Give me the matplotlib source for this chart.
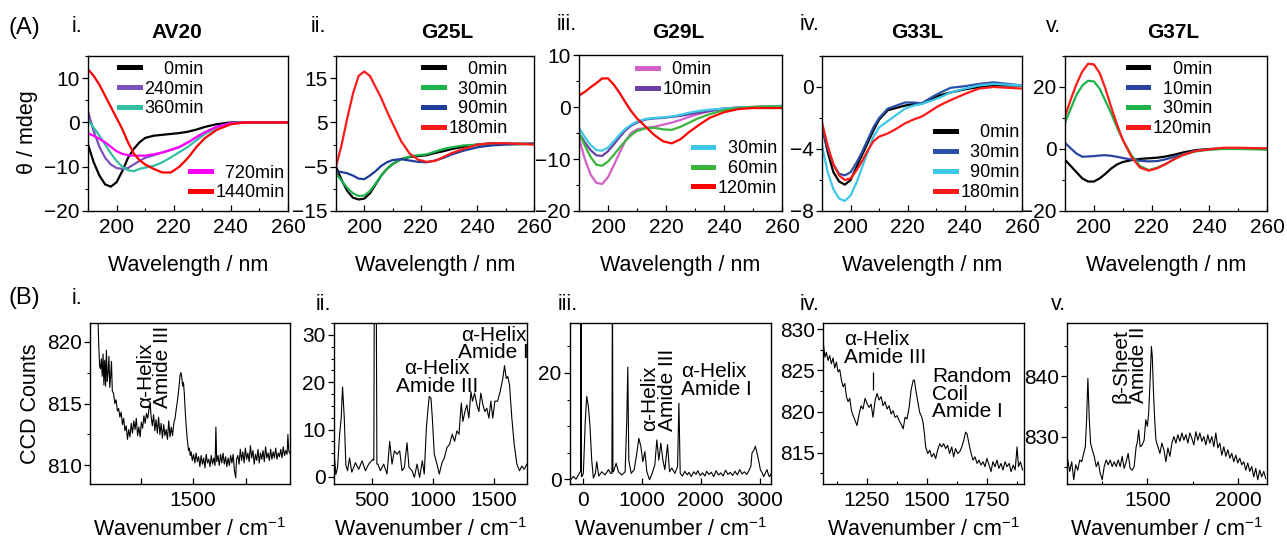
"""CD spectra (top row) and Raman spectra (bottom row) of AV20 and its Gly->Leu mutants."""

import matplotlib
matplotlib.use("Agg")
import matplotlib.pyplot as plt
from matplotlib.ticker import FixedLocator, MultipleLocator

plt.rcParams["font.family"] = ["Liberation Sans", "DejaVu Sans"]
plt.rcParams["mathtext.fontset"] = "custom"
plt.rcParams["mathtext.rm"] = "Liberation Sans"
plt.rcParams["mathtext.it"] = "Liberation Sans:italic"

W, H = 1287, 541

# ---------------------------------------------------------------- CD data
WL = [190, 192, 194, 196, 198, 200, 202, 204, 206, 208, 210, 213, 216, 219,
      222, 225, 228, 231, 235, 240, 245, 250, 260]

AV20_LABELS = ["0min", "240min", "360min", "720min", "1440min"]
AV20_COLORS = ["#000000", "#7b52b9", "#34bfa2", "#ff00ff", "#ff0000"]
AV20 = [
    [-5, -9, -12, -14, -14.5, -13.5, -11, -8, -6, -4.5, -3.5, -3, -2.8, -2.6,
     -2.4, -2.1, -1.6, -1.0, -0.4, 0, 0, 0, 0],
    [2.5, -2, -5.5, -8, -9.5, -10.3, -10.5, -10.3, -9.5, -8.7, -8, -7.4, -6.8,
     -6.2, -5.6, -4.5, -3.3, -2.2, -1.0, -0.2, 0, 0, 0],
    [0.5, -1.2, -3, -5, -7, -8.7, -10, -10.8, -11, -10.5, -10.2, -9.8, -9,
     -7.9, -6.7, -5.5, -4, -2.6, -1.2, -0.2, 0, 0, 0],
    [-2.5, -3, -3.7, -4.5, -5.5, -6.5, -7.1, -7.4, -7.5, -7.5, -7.5, -7.2,
     -6.8, -6.2, -5.5, -4.5, -3.3, -2.2, -1, -0.2, 0, 0, 0],
    [12, 10.5, 8.5, 6, 3.5, 1, -1.5, -4.5, -7, -8.5, -9.5, -10.5, -11.3,
     -11.3, -10, -8, -5.5, -3.5, -1.7, -0.4, 0, 0, 0],
]

G25L_LABELS = ["0min", "30min", "90min", "180min"]
G25L_COLORS = ["#000000", "#1db24a", "#1f3c99", "#ff1a1a"]
G25L = [
    [-5, -8, -10.5, -12, -12.4, -12.2, -11, -9, -7, -5.5, -4.4, -3.3, -2.8,
     -2.6, -2.4, -1.9, -1.5, -1.0, -0.5, 0, 0.3, 0.2, 0.2],
    [-6.5, -8.2, -9.8, -11, -11.6, -11.5, -10.5, -8.8, -7, -5.5, -4.4, -3.3,
     -2.7, -2.4, -2.2, -1.6, -1.0, -0.6, -0.2, 0, 0.2, 0.1, 0.1],
    [-6, -6.2, -6.5, -7, -7.7, -7.8, -7, -6, -4.8, -4, -3.5, -3.3, -3.6, -3.9,
     -4, -3.6, -3, -2.2, -1.4, -0.6, -0.2, 0, 0.2],
    [-5, 0, 6, 11.5, 15.5, 16.5, 15.5, 13, 10.5, 7.5, 4.8, 0.8, -2, -3.4,
     -3.9, -3.7, -2.8, -1.9, -1.0, 0, 0.3, 0.3, 0],
]

G29L_LABELS = ["0min", "10min", "30min", "60min", "120min"]
G29L_COLORS = ["#d45fc8", "#6a3fa6", "#3cc8e6", "#3cb43c", "#ff0000"]
G29L = [
    [-6, -10, -13, -14.6, -14.8, -13.5, -11.2, -8.8, -6.5, -5, -4.3, -4, -3.8,
     -3.4, -3, -2.5, -1.9, -1.4, -0.8, -0.3, -0.1, 0, 0.2],
    [-5, -6.8, -8.3, -9.3, -9.4, -8.5, -7.2, -5.8, -4.5, -3.6, -3, -2.4, -2.2,
     -2.1, -1.9, -1.7, -1.4, -1.1, -0.8, -0.3, -0.1, 0, 0.2],
    [-4, -5.8, -7.3, -8.3, -8.4, -7.8, -6.6, -5.3, -4.2, -3.4, -2.8, -2.3,
     -2.1, -2, -1.8, -1.5, -1.1, -0.8, -0.5, -0.3, -0.1, 0, 0.2],
    [-5, -7.4, -9.6, -11.1, -11.3, -10.5, -9.2, -7.8, -6.5, -5.4, -4.6, -4.1,
     -4, -4.3, -4.4, -3.8, -3, -2.2, -1.4, -0.6, -0.2, 0, 0.1],
    [2.2, 2.9, 3.8, 4.6, 5.5, 5.5, 4.3, 2.7, 0.9, -0.8, -2.2, -3.8, -5.4,
     -6.6, -7, -6.2, -4.8, -3.6, -2.1, -1, -0.4, -0.2, -0.2],
]

G33L_LABELS = ["0min", "30min", "90min", "180min"]
G33L_COLORS = ["#000000", "#2a4fa8", "#3cc8e6", "#ff1a1a"]
G33L = [
    [-2.5, -4.2, -5.5, -6.1, -6.3, -6, -5.2, -4.4, -3.6, -2.8, -2.1, -1.5,
     -1.35, -1.2, -1.1, -1.05, -0.8, -0.55, -0.35, -0.15, 0, 0.1, 0.1],
    [-2.6, -4, -5, -5.6, -5.7, -5.5, -4.9, -4.2, -3.4, -2.6, -2, -1.4, -1.2,
     -1.0, -1.0, -1.05, -0.7, -0.4, -0.05, 0.05, 0.2, 0.3, 0.1],
    [-3.8, -5.5, -6.6, -7.2, -7.35, -7, -6.2, -5.2, -4.2, -3.2, -2.6, -2.2,
     -1.8, -1.4, -1.2, -1.1, -0.9, -0.7, -0.35, -0.1, 0.1, 0.2, 0.1],
    [-2.3, -3.8, -5, -5.7, -6, -5.9, -5.4, -4.8, -4.1, -3.5, -3.2, -3.0, -2.7,
     -2.35, -2.1, -1.9, -1.55, -1.2, -0.85, -0.45, -0.1, 0, -0.1],
]

G37L_LABELS = ["0min", "10min", "30min", "120min"]
G37L_COLORS = ["#000000", "#2a44a0", "#1db24a", "#ff1a1a"]
G37L = [
    [-3.5, -5.5, -7.5, -9.5, -10.5, -10.5, -9.5, -8, -6.3, -5, -4.2, -3.6,
     -3.2, -3, -2.8, -2.4, -1.8, -1.1, -0.4, 0, 0.1, 0.2, 0],
    [2, 0.2, -1.5, -2.5, -2.4, -2.3, -2.1, -2, -2.2, -2.5, -2.9, -3.4, -3.8,
     -4, -3.9, -3.3, -2.5, -1.7, -0.6, -0.1, 0.1, 0.2, 0],
    [8.5, 13, 17.5, 20.5, 22, 21.8, 19.5, 15.5, 11.5, 7, 3, -2, -5.5, -6.8,
     -6, -4.8, -3.2, -1.9, -0.8, -0.2, 0, 0, -0.2],
    [10.5, 16, 21, 25, 27.5, 27.3, 24.5, 19.5, 13.5, 8, 3, -2.5, -6, -7,
     -6.2, -4.8, -3.2, -1.9, -0.7, -0.1, 0.4, 0.4, 0.2],
]

# ------------------------------------------------------------- Raman data
RAMAN_I_X = [
    1046, 1052, 1056, 1060, 1064, 1068, 1072, 1076, 1080, 1084, 1088, 1092,
    1096, 1100, 1104, 1108, 1112, 1116, 1122, 1128, 1134, 1140, 1146, 1152,
    1158, 1164, 1170, 1176, 1182, 1188, 1194, 1200, 1206, 1212, 1218, 1224,
    1230, 1236, 1242, 1248, 1254, 1260, 1266, 1272, 1278, 1284, 1290, 1296,
    1300, 1306, 1312, 1318, 1324, 1330, 1336, 1342, 1348, 1354, 1360, 1366,
    1372, 1378, 1384, 1390, 1396, 1402, 1408, 1414, 1420, 1426, 1432, 1438,
    1442, 1446, 1450, 1454, 1458, 1462, 1466, 1470, 1474, 1478, 1482, 1486,
    1490, 1496, 1502, 1508, 1514, 1520, 1526, 1532, 1538, 1544, 1550, 1556,
    1562, 1568, 1574, 1580, 1586, 1592, 1598, 1604, 1608, 1612, 1618, 1624,
    1630, 1636, 1642, 1648, 1654, 1660, 1666, 1672, 1678, 1684, 1690, 1696,
    1702, 1706, 1712, 1718, 1724, 1730, 1736, 1742, 1748, 1754, 1760, 1766,
    1772, 1778, 1784, 1790, 1796, 1802, 1808, 1814, 1820, 1826, 1832, 1838,
    1844, 1850, 1856, 1862, 1868, 1874, 1880, 1886, 1892, 1898, 1904, 1910,
    1916, 1922, 1928, 1934, 1940, 1946, 1950, 1954, 1958,
]
RAMAN_I_Y = [
    823.0, 819.5, 818.0, 817.8, 818.6, 817.2, 819.0, 816.5, 818.5, 816.4,
    819.3, 816.8, 817.5, 818.8, 816.3, 817.2, 818.4, 816.0, 815.8, 815.0,
    815.3, 814.4, 814.6, 813.9, 814.3, 813.3, 813.8, 812.8, 813.2, 812.1,
    812.9, 812.3, 813.4, 812.6, 813.6, 812.9, 813.8, 812.4, 813.1, 812.3,
    813.5, 813.0, 814.0, 813.4, 814.2, 813.8, 814.5, 815.0, 814.0, 813.2,
    814.1, 812.8, 813.7, 812.6, 813.9, 812.5, 813.4, 812.2, 813.3, 812.4,
    812.9, 812.1, 813.6, 812.3, 813.1, 812.4, 813.4, 813.8, 814.6, 815.3,
    816.2, 817.3, 817.5, 817.1, 816.4, 816.7, 815.8, 814.5, 813.4, 812.5,
    811.8, 811.2, 811.4, 810.8, 811.1, 810.4, 810.9, 810.2, 811.0, 810.3,
    810.7, 809.9, 810.8, 810.1, 810.6, 809.8, 810.9, 810.2, 810.5, 809.9,
    810.8, 810.1, 810.6, 810.0, 813.1, 810.3, 810.8, 810.0, 810.9, 810.2,
    811.0, 810.1, 810.7, 809.9, 810.6, 810.0, 810.8, 810.2, 810.9, 809.6,
    809.0, 810.5, 810.8, 810.1, 811.3, 810.4, 811.1, 810.2, 811.4, 810.5,
    811.0, 810.3, 811.6, 810.6, 811.2, 810.1, 810.9, 810.4, 811.3, 810.2,
    811.0, 810.5, 811.2, 810.3, 811.5, 810.6, 811.0, 810.4, 811.3, 810.5,
    811.1, 810.6, 811.4, 810.5, 811.0, 810.7, 811.3, 810.6, 811.5, 810.8,
    811.2, 810.9, 812.5, 811.2, 811.0,
]

RAMAN_II_X = [
    196, 205, 219, 236, 249, 260, 274, 287, 301, 317, 336, 365, 392, 420,
    447, 474, 508, 516, 520, 536, 541, 550, 569, 597, 624, 646, 665, 684,
    706, 728, 747, 766, 788, 804, 829, 848, 870, 891, 913, 929, 946, 960,
    970, 984, 995, 1011, 1033, 1052, 1074, 1093, 1115, 1136, 1158, 1177,
    1196, 1213, 1232, 1245, 1262, 1278, 1294, 1311, 1324, 1341, 1360, 1376,
    1392, 1409, 1425, 1441, 1458, 1474, 1490, 1507, 1529, 1550, 1572, 1586,
    1600, 1613, 1627, 1646, 1665, 1687, 1709, 1728, 1747, 1768,
]
RAMAN_II_Y = [
    3.5, 0.5, 2.0, 9.0, 12.5, 19.0, 12.5, 2.5, 1.3, 4.0, 1.0, 3.0, 1.6, 3.4,
    1.3, 2.7, 3.7, 3.5, 40.0, 40.0, 2.7, 2.7, 1.3, 2.7, 0.6, 7.5, 2.7, 5.5,
    4.8, 5.5, 1.3, 2.0, 7.2, 2.0, 1.3, -0.1, 2.7, -0.1, 3.4, 0.6, 10.3,
    14.5, 17.0, 16.6, 12.4, 4.8, 2.7, 0.6, 3.0, 4.0, 6.2, 6.9, 9.0, 7.5, 9.7,
    9.0, 15.6, 11.7, 13.8, 15.2, 12.4, 18.0, 16.0, 17.7, 15.2, 13.8, 17.7,
    15.2, 13.8, 14.5, 12.4, 16.0, 12.4, 16.0, 16.0, 18.0, 20.8, 23.5, 20.8,
    21.2, 19.4, 12.4, 6.9, 2.7, 1.3, 2.3, 1.6, 2.7,
]

RAMAN_III_X = [
    -205, -158, -113, -73, -45, -35, -28, -20, -11, 11, 45, 68, 96, 124, 153,
    181, 215, 238, 272, 323, 379, 436, 475, 495, 504, 512, 521, 566, 606,
    662, 719, 747, 764, 781, 821, 872, 917, 951, 985, 1019, 1053, 1087,
    1132, 1177, 1222, 1256, 1290, 1324, 1358, 1392, 1437, 1471, 1511, 1562,
    1607, 1630, 1652, 1690, 1730, 1770, 1800, 1840, 1880, 1920, 1950, 1990,
    2030, 2070, 2100, 2140, 2180, 2220, 2260, 2300, 2340, 2380, 2420, 2460,
    2500, 2540, 2580, 2620, 2660, 2700, 2740, 2780, 2820, 2850, 2868, 2900,
    2925, 2945, 2965, 2990, 3010, 3040, 3066, 3100, 3123, 3150, 3168, 3190,
]
RAMAN_III_Y = [
    -0.1, 0.5, 0.0, 0.8, 1.4, 1.4, 40.0, 0.5, 0.5, 1.1, 11.2, 15.6, 13.7,
    9.9, 3.6, 0.2, 1.1, 3.3, 0.6, 1.4, 0.8, 1.8, 1.1, 1.1, 40.0, 1.4, 1.4,
    3.0, 1.4, 0.8, 1.4, 11.2, 21.1, 3.6, 1.1, 1.8, 4.9, 7.7, 6.2, 3.3, 5.2,
    1.4, -0.1, 1.1, 2.7, 7.4, 3.6, 6.8, 3.6, 1.8, 6.5, 1.4, 2.1, 1.1, 2.4,
    14.3, 1.1, 0.6, 1.5, 0.8, 1.3, 0.5, 1.4, 0.9, 1.6, 0.7, 1.2, 0.6, 1.5,
    0.9, 1.3, 0.5, 1.6, 0.8, 1.2, 0.6, 1.7, 0.9, 1.3, 0.7, 1.5, 0.8, 1.8,
    1.0, 1.4, 0.9, 1.7, 2.5, 4.9, 5.5, 6.2, 5.3, 4.3, 3.0, 1.8, 1.2, 0.5,
    1.3, 1.8, 0.7, 0.5, 1.0,
]

RAMAN_IV_X = [
    1067, 1074, 1080, 1087, 1094, 1101, 1108, 1115, 1122, 1129, 1136, 1143,
    1150, 1157, 1164, 1171, 1178, 1185, 1192, 1200, 1208, 1217, 1225, 1233,
    1242, 1250, 1259, 1267, 1275, 1284, 1292, 1300, 1309, 1317, 1325, 1334,
    1342, 1351, 1359, 1367, 1376, 1384, 1392, 1401, 1409, 1417, 1426, 1434,
    1443, 1448, 1454, 1462, 1470, 1479, 1484, 1490, 1495, 1504, 1512, 1520,
    1529, 1537, 1545, 1554, 1562, 1570, 1579, 1587, 1595, 1604, 1612, 1620,
    1629, 1637, 1646, 1654, 1662, 1668, 1676, 1685, 1693, 1701, 1710, 1718,
    1726, 1735, 1743, 1751, 1760, 1768, 1776, 1785, 1793, 1801, 1810, 1818,
    1827, 1835, 1844, 1852, 1861, 1869, 1877, 1883, 1891, 1900,
]
RAMAN_IV_Y = [
    828.4, 826.6, 827.2, 826.2, 826.8, 825.8, 826.5, 825.3, 826.0, 824.8,
    825.1, 823.8, 823.0, 823.4, 821.8, 821.2, 821.6, 820.1, 819.5, 818.9,
    818.3, 819.7, 820.7, 820.3, 821.6, 821.0, 820.5, 820.9, 819.3, 821.4,
    822.2, 821.4, 821.8, 820.7, 821.2, 820.3, 820.7, 819.7, 820.1, 819.3,
    819.5, 818.9, 818.5, 817.9, 819.3, 819.1, 820.5, 822.6, 823.8, 823.8,
    822.6, 821.2, 819.9, 819.3, 818.7, 817.3, 815.7, 814.9, 815.3, 814.5,
    814.9, 814.3, 815.3, 816.1, 815.7, 816.1, 815.5, 815.9, 814.9, 815.7,
    814.5, 815.5, 814.9, 815.1, 815.7, 816.5, 817.5, 817.3, 816.1, 814.9,
    814.1, 814.5, 813.7, 814.1, 813.5, 813.9, 813.3, 814.3, 813.5, 812.7,
    813.9, 813.3, 814.1, 813.1, 813.7, 812.9, 813.9, 813.3, 813.7, 812.7,
    813.5, 812.9, 815.7, 813.3, 813.9, 812.9,
]

RAMAN_V_X = [
    1061, 1072, 1083, 1094, 1105, 1116, 1127, 1138, 1149, 1158, 1165, 1172,
    1180, 1187, 1196, 1207, 1218, 1229, 1240, 1251, 1262, 1273, 1284, 1295,
    1306, 1317, 1328, 1339, 1350, 1361, 1372, 1383, 1394, 1405, 1416, 1427,
    1438, 1445, 1452, 1460, 1471, 1482, 1491, 1500, 1507, 1515, 1522, 1527,
    1533, 1540, 1547, 1558, 1569, 1580, 1591, 1602, 1613, 1624, 1635, 1646,
    1657, 1668, 1679, 1690, 1701, 1712, 1723, 1734, 1745, 1756, 1767, 1778,
    1789, 1800, 1811, 1822, 1833, 1844, 1855, 1866, 1877, 1888, 1899, 1910,
    1921, 1932, 1943, 1954, 1965, 1976, 1987, 1998, 2009, 2020, 2031, 2042,
    2053, 2064, 2075, 2086, 2097, 2108, 2119, 2130, 2141, 2152,
]
RAMAN_V_Y = [
    826.1, 824.2, 825.8, 822.8, 825.3, 824.4, 826.1, 825.8, 827.2, 828.3,
    832.8, 839.7, 832.8, 828.9, 827.8, 826.7, 825.0, 825.8, 823.9, 822.8,
    825.0, 826.1, 825.3, 826.1, 825.0, 825.8, 825.0, 826.1, 825.0, 826.7,
    824.7, 825.8, 827.2, 824.7, 824.4, 825.0, 828.3, 829.2, 831.1, 828.3,
    828.6, 829.4, 832.8, 831.7, 833.9, 839.4, 845.0, 843.3, 837.8, 832.8,
    829.4, 828.3, 827.2, 828.9, 827.8, 825.8, 828.1, 826.7, 828.9, 830.0,
    828.9, 830.3, 829.2, 830.6, 829.4, 830.3, 828.9, 830.6, 829.7, 828.6,
    830.8, 829.4, 830.6, 829.2, 830.0, 828.6, 830.3, 828.9, 830.0, 828.3,
    830.6, 828.1, 828.9, 826.9, 828.3, 826.7, 827.8, 826.4, 827.2, 825.8,
    826.9, 825.6, 826.4, 825.3, 825.8, 824.4, 825.6, 824.2, 825.0, 823.3,
    824.7, 822.8, 824.4, 823.3, 824.2, 823.0,
]

TITLES = ["AV20", "G25L", "G29L", "G33L", "G37L"]
ROMAN = ["i.", "ii.", "iii.", "iv.", "v."]

# axes boxes in pixels: left, top, right, bottom
TOP_BOXES = [(88, 56, 288, 211), (336, 56, 534, 211), (579, 55, 782, 211),
             (822, 56, 1022, 211), (1065, 56, 1267, 211)]
BOT_BOXES = [(90, 323, 290, 484), (334, 323, 527, 484), (570, 323, 771, 484),
             (823, 323, 1024, 484), (1067, 323, 1267, 484)]

TICK_FS = 15
LABEL_FS = 15.5
LEG_FS = 13


def add_box(fig, box):
    left, top, right, bottom = box
    return fig.add_axes([left / W, 1 - bottom / H, (right - left) / W,
                         (bottom - top) / H])


def style(ax):
    ax.tick_params(axis="x", which="both", direction="in", labelsize=TICK_FS,
                   pad=5)
    ax.tick_params(axis="y", which="both", direction="out", labelsize=TICK_FS,
                   pad=2)
    ax.tick_params(which="major", length=4, width=0.9)
    ax.tick_params(which="minor", length=2.5, width=0.8)
    for s in ax.spines.values():
        s.set_linewidth(1.0)


def pad_labels(labels):
    # right-align the legend texts the way the original does, two spaces per digit
    width = max(len(s) for s in labels)
    return ["  " * (width - len(s)) + s for s in labels]


def cd_panel(ax, data, labels, colors, ylim, yticks, groups):
    lines = []
    for vals, lab, col in zip(data, labels, colors):
        (ln,) = ax.plot(WL, vals, color=col, lw=1.6, label=lab)
        lines.append(ln)
    ax.set_xlim(190, 260)
    ax.set_ylim(*ylim)
    ax.set_xticks([200, 220, 240, 260])
    ax.xaxis.set_minor_locator(MultipleLocator(10))
    ax.set_yticks(yticks)
    ax.yaxis.set_minor_locator(MultipleLocator((yticks[1] - yticks[0]) / 2))
    ax.set_xlabel("Wavelength / nm", fontsize=LABEL_FS, labelpad=13)
    style(ax)
    legs = []
    for idx, anchor in groups:
        hs = [lines[i] for i in idx]
        texts = pad_labels([labels[i] for i in idx])
        leg = ax.legend(hs, texts, loc="upper left", bbox_to_anchor=anchor,
                        frameon=False, fontsize=LEG_FS, handlelength=1.15,
                        handletextpad=0.25, labelspacing=0.16, borderpad=0,
                        borderaxespad=0)
        for h in leg.legend_handles:
            h.set_linewidth(3.6)
        legs.append(leg)
    for leg in legs[:-1]:
        ax.add_artist(leg)


def raman_panel(ax, x, y, xlim, ylim, xticks, xlabels, xminor, yticks, yminor):
    ax.plot(x, y, color="black", lw=0.8)
    ax.set_xlim(*xlim)
    ax.set_ylim(*ylim)
    ax.set_xticks(xticks)
    ax.set_xticklabels(xlabels)
    if xminor:
        ax.xaxis.set_minor_locator(FixedLocator(xminor))
    ax.set_yticks(yticks)
    ax.yaxis.set_minor_locator(MultipleLocator(yminor))
    ax.set_xlabel("Wavenumber / cm$^{-1}$", fontsize=LABEL_FS, labelpad=6)
    style(ax)


def main():
    fig = plt.figure(figsize=(W / 100, H / 100), dpi=100)

    top = [add_box(fig, b) for b in TOP_BOXES]
    cd_panel(top[0], AV20, AV20_LABELS, AV20_COLORS, (-20, 15),
             [-20, -10, 0, 10],
             [([0, 1, 2], (0.155, 0.97)), ([3, 4], (0.51, 0.30))])
    cd_panel(top[1], G25L, G25L_LABELS, G25L_COLORS, (-15, 20),
             [-15, -5, 5, 15], [([0, 1, 2, 3], (0.44, 0.97))])
    cd_panel(top[2], G29L, G29L_LABELS, G29L_COLORS, (-20, 10),
             [-20, -10, 0, 10],
             [([0, 1], (0.285, 0.96)), ([2, 3, 4], (0.56, 0.455))])
    cd_panel(top[3], G33L, G33L_LABELS, G33L_COLORS, (-8, 2),
             [-8, -4, 0], [([0, 1, 2, 3], (0.565, 0.56))])
    cd_panel(top[4], G37L, G37L_LABELS, G37L_COLORS, (-20, 30),
             [-20, 0, 20], [([0, 1, 2, 3], (0.31, 0.97))])

    bot = [add_box(fig, b) for b in BOT_BOXES]
    raman_panel(bot[0], RAMAN_I_X, RAMAN_I_Y, (1010, 1960), (808.5, 821.5),
                [1250, 1500, 1750], ["", "1500", ""], None,
                [810, 815, 820], 2.5)
    raman_panel(bot[1], RAMAN_II_X, RAMAN_II_Y, (190, 1770), (-1.5, 32.5),
                [500, 1000, 1500], ["500", "1000", "1500"], None,
                [0, 10, 20, 30], 2.5)
    raman_panel(bot[2], RAMAN_III_X, RAMAN_III_Y, (-215, 3190), (-0.9, 29.4),
                [0, 1000, 2000, 3000], ["0", "1000", "2000", "3000"], None,
                [0, 20], 5)
    raman_panel(bot[3], RAMAN_IV_X, RAMAN_IV_Y, (1066, 1906), (811.2, 830.75),
                [1250, 1500, 1750], ["1250", "1500", "1750"],
                [1125, 1375, 1625, 1875], [815, 820, 825, 830], 2.5)
    raman_panel(bot[4], RAMAN_V_X, RAMAN_V_Y, (1057, 2159), (822.1, 848.9),
                [1500, 2000], ["1500", "2000"], [1250, 1750],
                [830, 840], 5)

    # band assignments
    txt = dict(fontsize=TICK_FS, color="black", linespacing=0.9)
    bot[0].text(1314, 814.6, "α-Helix\nAmide III", rotation=90, ha="center",
                va="bottom", multialignment="left", **txt)
    bot[1].text(1033, 24.8, "α-Helix\nAmide III", ha="center", va="top",
                multialignment="center", **txt)
    bot[1].text(1495, 31.9, "α-Helix\nAmide I", ha="center", va="top",
                multialignment="center", **txt)
    bot[2].text(1290, 9.0, "α-Helix\nAmide III", rotation=90, ha="center",
                va="bottom", multialignment="left", **txt)
    bot[2].text(1664, 22.0, "α-Helix\nAmide I", ha="left", va="top",
                multialignment="left", **txt)
    bot[3].text(1154, 829.9, "α-Helix\nAmide III", ha="left", va="top",
                multialignment="left", **txt)
    bot[3].vlines(1275, 822.6, 824.8, color="black", lw=0.9)
    bot[3].text(1523, 825.4, "Random\nCoil\nAmide I", ha="left", va="top",
                multialignment="left", **txt)
    bot[4].text(1400, 835.6, "β-Sheet\nAmide II", rotation=90, ha="center",
                va="bottom", multialignment="left", **txt)

    # panel tags, titles, row labels
    fig.text(24 / W, 1 - 28 / H, "(A)", fontsize=17, ha="center", va="center")
    fig.text(24 / W, 1 - 298 / H, "(B)", fontsize=17, ha="center", va="center")
    top_roman_x = [77, 318, 567, 810, 1053]
    top_roman_y = [26, 27, 25, 25, 27]
    title_x = [177, 447, 678, 917, 1173]
    for rx, ry, tx, t, r in zip(top_roman_x, top_roman_y, title_x, TITLES, ROMAN):
        fig.text(rx / W, 1 - ry / H, r, fontsize=15.5, ha="center", va="center")
        fig.text(tx / W, 1 - 33 / H, t, fontsize=15, fontweight="bold",
                 ha="center", va="center")
    bot_roman_x = [77, 323, 568, 810, 1058]
    bot_roman_y = [298, 305, 305, 305, 305]
    for rx, ry, r in zip(bot_roman_x, bot_roman_y, ROMAN):
        fig.text(rx / W, 1 - ry / H, r, fontsize=15.5, ha="center", va="center")

    fig.text(28 / W, 1 - 132 / H, "θ / mdeg", fontsize=LABEL_FS, rotation=90,
             ha="center", va="center")
    fig.text(30 / W, 1 - 404 / H, "CCD Counts", fontsize=LABEL_FS, rotation=90,
             ha="center", va="center")

    fig.savefig("out.png", dpi=100)
    plt.close(fig)


if __name__ == "__main__":
    main()
